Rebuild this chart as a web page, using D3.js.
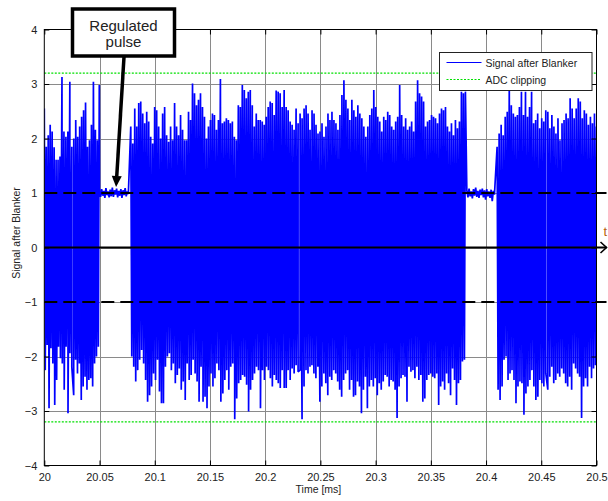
<!DOCTYPE html>
<html>
<head>
<meta charset="utf-8">
<script src="https://cdn.jsdelivr.net/npm/d3@7"></script>
<style>
  html, body { margin: 0; padding: 0; background: #fff; }
  svg { display: block; }
  text { font-family: Arial, "Liberation Sans", sans-serif; }
</style>
</head>
<body>
<svg id="chart" width="608" height="501"></svg>
<script>
// ---- axis ticks ----
const xTicks = [20, 20.05, 20.1, 20.15, 20.2, 20.25, 20.3, 20.35, 20.4, 20.45, 20.5];
const xTickLabels = ["20", "20.05", "20.1", "20.15", "20.2", "20.25", "20.3", "20.35", "20.4", "20.45", "20.5"];
const yTicks = [-4, -3, -2, -1, 0, 1, 2, 3, 4];

// ---- reference levels ----
const clipLevels = [3.2, -3.2];      // ADC clipping
const pulseLevels = [1, -1];         // regulated pulse amplitude
const axisLevel = 0;

// ---- time spans (ms) of the received bursts and regulated pulses ----
const burst1Span = [20.0, 20.0498];
const pulse1Span = [20.050, 20.0761];
const burst2Span = [20.0783, 20.3813];
const pulse2Span = [20.3826, 20.4076];
const burst3Span = [20.410, 20.500];

// ---- burst 1: positive / negative excursions ----
const burst1Upper = [2.55, 1.85, 2.06, 2.25, 2.13, 1.84, 1.61, 1.61, 1.67, 3.13, 2.13, 2.03, 2.13, 3.04, 1.85,
  2.00, 2.34, 2.03, 2.22, 2.40, 2.52, 2.66, 1.85, 1.97, 2.25, 3.04, 2.16, 1.97, 2.98];
const burst1Lower = [-2.25, -1.79, -2.95, -1.85, -2.13, -2.89, -2.43, -1.82, -2.03, -2.13, -2.61, -1.82, -3.04, -1.94, -2.19,
  -2.71, -2.06, -2.31, -2.13, -2.80, -2.55, -2.37, -2.61, -2.43, -2.40, -2.55, -2.13, -2.00, -1.82];

// ---- regulated pulse 1 ----
const pulse1 = [1.02, 0.93, 1.07, 0.95, 1.04, 0.91, 1.09, 0.96, 1.03, 0.92, 1.06, 0.94, 1.10, 0.93, 1.05, 0.97,
  1.08, 0.92, 1.04, 0.95, 1.07, 0.91, 1.05, 0.96, 1.09, 0.94, 1.03, 0.98];

// ---- burst 2 ----
const burst2Upper = [2.22, 1.91, 2.55, 2.22, 2.65, 2.68, 2.46, 2.28, 2.49, 2.31, 2.03, 1.91, 2.58, 2.52, 2.22, 2.00,
  2.46, 2.58, 2.06, 1.94, 2.22, 1.97, 2.65, 2.22, 2.06, 2.43, 2.16, 1.97, 1.97, 2.49, 2.34, 3.01, 2.83, 2.61, 2.71,
  2.83, 2.58, 2.40, 2.00, 2.22, 2.34, 2.46, 2.43, 2.16, 2.34, 3.09, 2.28, 2.31, 2.37, 2.34, 2.28, 2.31, 2.03, 1.97,
  2.61, 2.58, 2.98, 2.89, 2.74, 2.86, 2.89, 2.61, 2.22, 2.46, 2.34, 2.34, 2.31, 2.25, 2.40, 2.58, 2.68, 2.65, 2.43,
  2.88, 2.86, 2.83, 2.58, 2.89, 2.58, 2.52, 2.31, 2.25, 2.16, 2.55, 2.28, 2.46, 2.37, 2.55, 2.61, 2.46, 2.16, 2.52,
  2.46, 2.25, 2.09,
  2.13, 2.28, 2.03, 2.22, 2.46, 2.34, 2.49, 2.34, 2.28, 2.16, 2.43, 2.80, 3.07, 2.71, 2.55, 2.34, 2.71, 2.52, 2.40,
  2.61, 2.46, 2.37, 2.22, 2.03, 2.22, 2.43, 2.55, 2.89, 2.58, 2.40, 2.31, 2.13, 2.40, 2.34, 2.49, 2.43, 2.22, 2.16,
  2.31, 2.40, 2.98, 2.43, 2.22, 2.37, 2.16, 2.22, 2.31, 2.13, 2.68, 3.07, 2.83, 2.77, 2.68, 2.22, 2.31, 2.34, 2.43,
  2.40, 2.37, 2.28, 2.46, 2.55, 2.52, 2.58, 2.22, 2.13, 2.28, 2.06, 2.34, 2.19, 2.31, 2.86, 2.83, 2.86];
const burst2Lower = [-2.00, -2.19, -2.46, -2.25, -2.06, -1.88, -2.13, -2.43, -2.83, -2.71, -2.55, -2.31, -2.43, -2.06,
  -2.64, -2.86, -2.86, -2.19, -2.00, -1.94, -2.25, -2.13, -2.49, -2.34, -2.22, -2.61, -2.46, -2.80, -2.13, -2.43,
  -2.34, -2.06, -2.31, -2.46, -2.83, -2.19, -2.83, -2.74, -2.95, -2.55, -2.31, -2.55, -2.40, -2.13, -2.25, -2.83,
  -2.68, -2.43, -2.25, -2.61, -2.19, -2.13, -3.15, -2.77, -2.49, -2.43, -2.34, -2.37, -2.52, -3.01, -2.61, -2.43,
  -2.31, -2.19, -2.25, -2.95, -2.25, -2.43, -2.19, -2.25, -2.40, -2.55, -2.34, -2.43, -2.49, -2.58, -2.25, -2.58,
  -2.58, -2.25, -2.43, -2.22, -2.31, -2.16, -2.28, -2.25, -3.15, -2.55, -2.25, -2.31, -2.19, -2.16, -2.31, -2.40,
  -2.19,
  -2.83, -2.55, -2.31, -2.49, -2.71, -2.37, -2.43, -2.25, -2.31, -2.46, -2.61, -2.74, -2.43, -2.31, -2.25, -2.61,
  -2.43, -2.74, -2.71, -2.46, -2.55, -3.04, -2.61, -2.37, -2.95, -2.55, -2.43, -2.55, -2.40, -2.71, -2.49, -2.61,
  -2.46, -2.34, -2.37, -2.55, -2.43, -2.46, -2.61, -3.13, -2.55, -2.40, -2.34, -2.37, -2.83, -2.19, -2.28, -2.25,
  -2.40, -2.19, -2.43, -2.34, -2.83, -2.77, -2.43, -2.34, -2.31, -2.37, -2.40, -2.31, -2.89, -2.55, -2.46, -2.61,
  -2.31, -2.49, -2.71, -2.22, -2.43, -2.89, -2.49, -2.43, -2.09, -2.06];

// ---- regulated pulse 2 ----
const pulse2 = [1.05, 0.92, 1.08, 0.94, 1.03, 0.90, 1.07, 0.95, 1.10, 0.93, 1.04, 0.91, 1.06, 0.96, 1.08, 0.92,
  1.05, 0.88, 1.07, 0.94, 1.03, 0.91, 1.06, 0.85, 1.04, 0.97];

// ---- burst 3 ----
const burst3Upper = [1.85, 2.09, 2.25, 2.06, 2.40, 2.49, 2.98, 2.61, 2.46, 2.40, 2.43, 2.58, 2.86, 2.43, 2.86, 2.40,
  2.58, 2.86, 2.28, 2.34, 2.46, 2.19, 2.37, 2.31, 2.52, 2.49, 2.19, 2.43, 2.22, 2.09, 2.37, 1.97, 2.28, 2.34, 2.46,
  2.37, 2.74, 2.55, 2.37, 2.55, 2.74, 2.68, 2.37, 2.52, 2.46, 2.25, 2.40, 2.28, 2.46, 2.22];
const burst3Lower = [-2.61, -2.80, -2.55, -2.06, -2.00, -2.43, -2.31, -2.25, -2.43, -2.86, -2.55, -2.46, -2.49, -3.07,
  -2.68, -2.55, -2.43, -2.25, -2.55, -2.80, -2.74, -2.43, -2.49, -2.55, -2.31, -2.61, -2.37, -2.19, -2.49, -2.43,
  -2.31, -2.37, -2.22, -2.31, -2.49, -2.55, -2.37, -2.61, -2.13, -2.22, -2.31, -2.37, -3.13, -2.55, -2.40, -2.55,
  -2.19, -2.40, -2.22, -2.16];

// ---- layout ----
const svg = d3.select("#chart");
const plot = { left: 44.3, right: 596.5, top: 29.5, bottom: 465.5 };
const x = d3.scaleLinear().domain([20, 20.5]).range([plot.left, plot.right]);
const y = d3.scaleLinear().domain([-4, 4]).range([plot.bottom, plot.top]);
const ink = "#222";

svg.append("defs").append("clipPath").attr("id", "plotClip")
  .append("rect")
  .attr("x", plot.left).attr("y", plot.top)
  .attr("width", plot.right - plot.left).attr("height", plot.bottom - plot.top);

// grid
const grid = svg.append("g").attr("stroke", "#8a8a8a").attr("stroke-width", 1);
grid.selectAll(".gx").data(xTicks.slice(1, -1)).join("line")
  .attr("x1", d => Math.round(x(d)) + 0.5).attr("x2", d => Math.round(x(d)) + 0.5)
  .attr("y1", plot.top).attr("y2", plot.bottom);
grid.selectAll(".gy").data(yTicks.slice(1, -1)).join("line")
  .attr("x1", plot.left).attr("x2", plot.right)
  .attr("y1", d => Math.round(y(d)) + 0.5).attr("y2", d => Math.round(y(d)) + 0.5);

// ADC clipping levels
svg.append("g").selectAll("line").data(clipLevels).join("line")
  .attr("x1", plot.left).attr("x2", plot.right)
  .attr("y1", d => y(d)).attr("y2", d => y(d))
  .attr("stroke", "#00e000").attr("stroke-width", 1.2)
  .attr("stroke-dasharray", "2,1.5");

// assemble the received signal: excursions alternate in time within each burst
function burst(span, upper, lower) {
  const [t0, t1] = span;
  const up = upper.map((v, i) => ({ t: t0 + (t1 - t0) * i / (upper.length - 1), v }));
  const lo = lower.map((v, i) => ({ t: t0 + (t1 - t0) * (i + 0.5) / lower.length, v }));
  return up.concat(lo).sort((a, b) => a.t - b.t);
}
function pulse(span, values) {
  const [t0, t1] = span;
  return values.map((v, i) => ({ t: t0 + (t1 - t0) * i / (values.length - 1), v }));
}
const signal = [].concat(
  burst(burst1Span, burst1Upper, burst1Lower),
  pulse(pulse1Span, pulse1),
  burst(burst2Span, burst2Upper, burst2Lower),
  pulse(pulse2Span, pulse2),
  burst(burst3Span, burst3Upper, burst3Lower)
);

svg.append("path")
  .datum(signal)
  .attr("clip-path", "url(#plotClip)")
  .attr("fill", "none")
  .attr("stroke", "#0000ff")
  .attr("stroke-width", 1.7)
  .attr("stroke-linejoin", "miter")
  .attr("stroke-miterlimit", 1)
  .attr("d", d3.line().x(d => x(d.t)).y(d => y(d.v)));

// pulse amplitude markers and time axis
const lineEnd = 606.5;
svg.append("g").selectAll("line").data(pulseLevels).join("line")
  .attr("x1", plot.left).attr("x2", lineEnd)
  .attr("y1", d => y(d)).attr("y2", d => y(d))
  .attr("stroke", "#000").attr("stroke-width", 2)
  .attr("stroke-dasharray", "13,6");
svg.append("line")
  .attr("x1", plot.left).attr("x2", lineEnd)
  .attr("y1", y(axisLevel)).attr("y2", y(axisLevel))
  .attr("stroke", "#000").attr("stroke-width", 2);
svg.append("path")
  .attr("d", `M${lineEnd - 6},${y(axisLevel) - 5.5}L${lineEnd},${y(axisLevel)}L${lineEnd - 6},${y(axisLevel) + 5.5}`)
  .attr("fill", "none").attr("stroke", "#000").attr("stroke-width", 1.6);
svg.append("text")
  .attr("x", 603.5).attr("y", y(axisLevel) - 12)
  .attr("font-size", 13).attr("fill", "#b8600c")
  .text("t");

// axes box
svg.append("rect")
  .attr("x", plot.left).attr("y", plot.top)
  .attr("width", plot.right - plot.left).attr("height", plot.bottom - plot.top)
  .attr("fill", "none").attr("stroke", "#000").attr("stroke-width", 1);

// inward ticks on all four sides
const tickLen = 5;
const xAxisBottom = d3.axisBottom(x).tickValues(xTicks).tickSize(-tickLen).tickPadding(8)
  .tickFormat((d, i) => xTickLabels[i]);
const xAxisTop = d3.axisTop(x).tickValues(xTicks).tickSize(-tickLen).tickFormat("");
const yAxisLeft = d3.axisLeft(y).tickValues(yTicks).tickSize(-tickLen).tickPadding(7).tickFormat(d3.format("d"));
const yAxisRight = d3.axisRight(y).tickValues(yTicks).tickSize(-tickLen).tickFormat("");

function styleAxis(g) {
  g.select(".domain").remove();
  g.selectAll(".tick line").attr("stroke", "#000");
  g.selectAll(".tick text").attr("fill", ink).attr("font-size", 11)
    .attr("font-family", "Arial, 'Liberation Sans', sans-serif");
}
svg.append("g").attr("transform", `translate(0,${plot.bottom})`).call(xAxisBottom).call(styleAxis);
svg.append("g").attr("transform", `translate(0,${plot.top})`).call(xAxisTop).call(styleAxis);
svg.append("g").attr("transform", `translate(${plot.left},0)`).call(yAxisLeft).call(styleAxis);
svg.append("g").attr("transform", `translate(${plot.right},0)`).call(yAxisRight).call(styleAxis);

// axis titles
svg.append("text")
  .attr("x", (plot.left + plot.right) / 2 - 2).attr("y", 493)
  .attr("text-anchor", "middle").attr("font-size", 10.5).attr("fill", ink)
  .text("Time [ms]");
svg.append("text")
  .attr("transform", `translate(20,233) rotate(-90)`)
  .attr("text-anchor", "middle").attr("font-size", 10.5).attr("fill", ink)
  .text("Signal after Blanker");

// legend
const legend = svg.append("g").attr("transform", "translate(439.5,52.5)");
legend.append("rect").attr("width", 152.5).attr("height", 38)
  .attr("fill", "#fff").attr("stroke", "#222").attr("stroke-width", 1);
legend.append("line").attr("x1", 7).attr("x2", 42).attr("y1", 10).attr("y2", 10)
  .attr("stroke", "#0000ff").attr("stroke-width", 1);
legend.append("text").attr("x", 46).attr("y", 14).attr("font-size", 10.5).attr("fill", ink)
  .text("Signal after Blanker");
legend.append("line").attr("x1", 7).attr("x2", 42).attr("y1", 27).attr("y2", 27)
  .attr("stroke", "#00e000").attr("stroke-width", 1).attr("stroke-dasharray", "2,1.5");
legend.append("text").attr("x", 46).attr("y", 31).attr("font-size", 10.5).attr("fill", ink)
  .text("ADC clipping");

// callout pointing at the regulated pulse
const tip = { t: 20.065, v: 1.11 };
const tipX = x(tip.t), tipY = y(tip.v);
const tail = { x: 124, y: 57 };
const ang = Math.atan2(tipY - tail.y, tipX - tail.x);
const headLen = 11, headHalf = 5;
const baseX = tipX - headLen * Math.cos(ang), baseY = tipY - headLen * Math.sin(ang);
svg.append("line")
  .attr("x1", tail.x).attr("y1", tail.y).attr("x2", baseX).attr("y2", baseY)
  .attr("stroke", "#000").attr("stroke-width", 3.5);
svg.append("path")
  .attr("d", `M${tipX},${tipY}` +
    `L${baseX + headHalf * Math.sin(ang)},${baseY - headHalf * Math.cos(ang)}` +
    `L${baseX - headHalf * Math.sin(ang)},${baseY + headHalf * Math.cos(ang)}Z`)
  .attr("fill", "#000");
svg.append("rect")
  .attr("x", 72.5).attr("y", 9).attr("width", 102).attr("height", 47)
  .attr("fill", "#fff").attr("stroke", "#000").attr("stroke-width", 3.5);
svg.append("text").attr("x", 123.5).attr("y", 30.5)
  .attr("text-anchor", "middle").attr("font-size", 15).attr("fill", ink).text("Regulated");
svg.append("text").attr("x", 123.5).attr("y", 47)
  .attr("text-anchor", "middle").attr("font-size", 15).attr("fill", ink).text("pulse");
</script>
</body>
</html>
